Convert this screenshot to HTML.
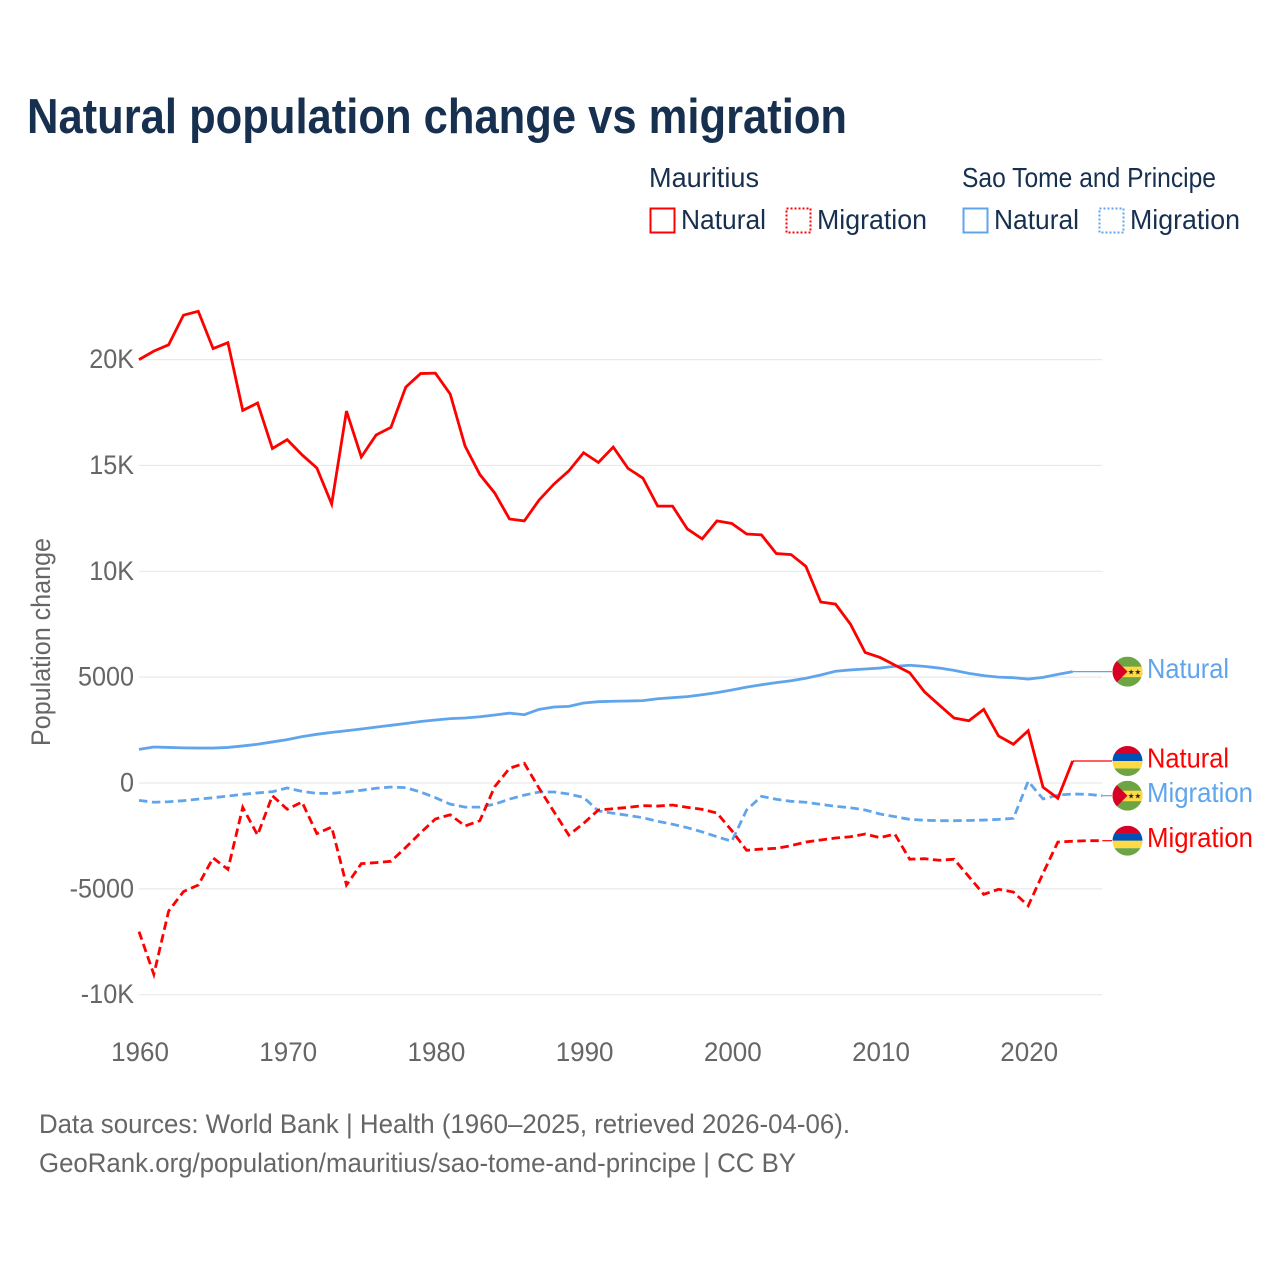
<!DOCTYPE html>
<html lang="en">
<head>
<meta charset="utf-8">
<title>Natural population change vs migration</title>
<style>
html,body{margin:0;padding:0;background:#fff;}
svg{display:block;font-family:"Liberation Sans",sans-serif;}
</style>
</head>
<body>
<svg id="chart" xmlns="http://www.w3.org/2000/svg" width="1280" height="1280" viewBox="0 0 1280 1280">
  <defs>
    <clipPath id="flag-clip"><circle cx="0" cy="0" r="15"></circle></clipPath>
  </defs>
  <rect x="0" y="0" width="1280" height="1280" fill="#ffffff"></rect>
  <text x="27" y="133" font-size="49" font-weight="700" fill="#17304f" textLength="820" lengthAdjust="spacingAndGlyphs">Natural population change vs migration</text>

  <g font-size="27.5" fill="#17304f">
    <text x="649" y="187" textLength="110" lengthAdjust="spacingAndGlyphs">Mauritius</text>
    <text x="962" y="187" textLength="254" lengthAdjust="spacingAndGlyphs">Sao Tome and Principe</text>
    <g>
      <rect x="650.5" y="208.5" width="24" height="24" fill="none" stroke="#ff0000" stroke-width="2"></rect>
      <text x="681" y="229" textLength="85" lengthAdjust="spacingAndGlyphs">Natural</text>
    </g>
    <g>
      <rect x="786.5" y="208.5" width="24" height="24" fill="none" stroke="#ff0000" stroke-width="2" stroke-dasharray="2 2"></rect>
      <text x="817" y="229" textLength="110" lengthAdjust="spacingAndGlyphs">Migration</text>
    </g>
    <g>
      <rect x="963.5" y="208.5" width="24" height="24" fill="none" stroke="#60a5ec" stroke-width="2"></rect>
      <text x="994" y="229" textLength="85" lengthAdjust="spacingAndGlyphs">Natural</text>
    </g>
    <g>
      <rect x="1099.5" y="208.5" width="24" height="24" fill="none" stroke="#60a5ec" stroke-width="2" stroke-dasharray="2 2"></rect>
      <text x="1130" y="229" textLength="110" lengthAdjust="spacingAndGlyphs">Migration</text>
    </g>
  </g>

  <text transform="translate(50,642) rotate(-90)" text-anchor="middle" font-size="26.5" fill="#666666" textLength="208" lengthAdjust="spacingAndGlyphs">Population change</text>

  <g id="grid"></g>
  <g id="y-ticks"></g>
  <g id="x-ticks"></g>
  <g id="series"></g>
  <g id="end-labels"></g>

  <text x="39" y="1133" font-size="26.5" fill="#666666" textLength="811" lengthAdjust="spacingAndGlyphs">Data sources: World Bank | Health (1960–2025, retrieved 2026-04-06).</text>
  <text x="39" y="1172" font-size="26.5" fill="#666666" textLength="757" lengthAdjust="spacingAndGlyphs">GeoRank.org/population/mauritius/sao-tome-and-principe | CC BY</text>
</svg>

<script>
const firstYear = 1960;
const yTickValues = [20000, 15000, 10000, 5000, 0, -5000, -10000];
const yTickLabels = ["20K", "15K", "10K", "5000", "0", "-5000", "-10K"];
const xTickYears = [1960, 1970, 1980, 1990, 2000, 2010, 2020];

const mauritiusNatural = [20000,20400,20700,22100,22280,20520,20800,17600,17950,15800,16220,15500,14880,13180,17570,15400,16440,16800,18700,19340,19360,18370,15920,14570,13700,12470,12380,13370,14120,14740,15600,15140,15870,14860,14400,13080,13080,12000,11530,12380,12260,11760,11720,10840,10790,10230,8550,8450,7510,6165,5930,5570,5210,4310,3680,3070,2940,3480,2220,1830,2470,-200,-720,1040];
const mauritiusMigration = [-7020,-9040,-6050,-5130,-4820,-3540,-4080,-1150,-2460,-600,-1240,-900,-2390,-2080,-4820,-3810,-3760,-3700,-3040,-2350,-1700,-1500,-2030,-1780,-175,695,930,-250,-1355,-2460,-1905,-1275,-1215,-1150,-1070,-1090,-1040,-1150,-1245,-1420,-2250,-3180,-3120,-3085,-2960,-2790,-2690,-2600,-2540,-2410,-2580,-2410,-3600,-3575,-3650,-3600,-4425,-5260,-5020,-5150,-5800,-4270,-2790,-2750,-2725,-2725];
const saoTomeNatural = [1590,1700,1680,1660,1650,1650,1680,1750,1830,1940,2050,2190,2300,2390,2470,2550,2640,2725,2810,2905,2975,3040,3070,3130,3210,3300,3225,3480,3590,3620,3780,3840,3860,3875,3890,3980,4030,4080,4170,4270,4390,4530,4640,4740,4830,4950,5100,5280,5340,5385,5430,5510,5560,5510,5430,5320,5180,5070,5000,4975,4910,4990,5130,5260];
const saoTomeMigration = [-820,-910,-885,-835,-760,-695,-615,-535,-470,-410,-235,-395,-490,-490,-425,-345,-250,-190,-220,-425,-695,-1000,-1140,-1140,-1000,-760,-570,-425,-425,-520,-680,-1320,-1430,-1530,-1640,-1810,-1950,-2110,-2310,-2540,-2750,-1275,-630,-770,-865,-910,-1010,-1100,-1170,-1275,-1465,-1590,-1715,-1760,-1780,-1780,-1770,-1750,-1720,-1670,80,-755,-570,-520,-535,-600];

const NS = "http://www.w3.org/2000/svg";
const RED = "#ff0000";
const BLUE = "#60a5ec";

function xScale(year) { return 139 + (year - 1960) * 14.82; }
function yScale(value) { return 783 - value * 0.02117; }

function make(tag, attrs, parent) {
  const el = document.createElementNS(NS, tag);
  for (const key in attrs) el.setAttribute(key, attrs[key]);
  parent.appendChild(el);
  return el;
}

function narrow(label, ratio) {
  const natural = label.getComputedTextLength();
  label.setAttribute("textLength", (natural * ratio).toFixed(1));
  label.setAttribute("lengthAdjust", "spacingAndGlyphs");
}

const gridGroup = document.getElementById("grid");
const yTickGroup = document.getElementById("y-ticks");
yTickValues.forEach(function (value, i) {
  const line = make("line", { x1: xScale(1960), x2: xScale(2025), y1: yScale(value), y2: yScale(value), stroke: "#e9e9e9", "stroke-width": 1.2 }, gridGroup);
  
  
  const label = make("text", { x: 134, y: yScale(value) + 8.5, "text-anchor": "end", "font-size": 26.5, fill: "#666666" }, yTickGroup);
  
  
  label.textContent = yTickLabels[i];
  narrow(label, 0.95);
});

const xTickGroup = document.getElementById("x-ticks");
xTickYears.forEach(function (year) {
  const label = make("text", { x: xScale(year) + 1, y: 1061, "text-anchor": "middle", "font-size": 26.5, fill: "#666666" }, xTickGroup);
  
  
  label.textContent = String(year);
  narrow(label, 0.98);
});

function pointsFor(values) {
  return values.map(function (v, i) { return xScale(firstYear + i).toFixed(2) + "," + yScale(v).toFixed(2); }).join(" ");
}

const seriesGroup = document.getElementById("series");
const endGroup = document.getElementById("end-labels");

function drawFlagMauritius(g) {
  const c = make("g", { "clip-path": "url(#flag-clip)" }, g);
  make("rect", { x: -15, y: -15, width: 30, height: 8.2, fill: "#d80027" }, c);
  make("rect", { x: -15, y: -7, width: 30, height: 7.2, fill: "#0052b4" }, c);
  make("rect", { x: -15, y: 0, width: 30, height: 7.5, fill: "#ffda44" }, c);
  make("rect", { x: -15, y: 7.5, width: 30, height: 7.5, fill: "#6da544" }, c);
}

function drawFlagSaoTome(g) {
  const c = make("g", { "clip-path": "url(#flag-clip)" }, g);
  make("rect", { x: -15, y: -15, width: 30, height: 30, fill: "#6da544" }, c);
  make("rect", { x: -15, y: -5, width: 30, height: 10.5, fill: "#ffda44" }, c);
  make("polygon", { points: "-11,-11 0,0 -11,11 -15,15 -15,-15", fill: "#d80027" }, c);
  make("text", { x: 7, y: 2.7, "text-anchor": "middle", "font-size": 7.5, fill: "#222222", "font-family": "DejaVu Sans, sans-serif" }, c).textContent = "★★";
}

function drawSeries(name, values, color, dashed, flag, labelText, labelWidth) {
  const line = make("polyline", { points: pointsFor(values), fill: "none", stroke: color, "stroke-width": 2.8, "stroke-linejoin": "miter" }, seriesGroup);
  
  
  if (dashed) line.setAttribute("stroke-dasharray", "8.5 4.5");

  const lastX = xScale(firstYear + values.length - 1);
  const lastY = yScale(values[values.length - 1]);

  const connector = make("line", { x1: lastX, x2: 1112, y1: lastY, y2: lastY, stroke: color, "stroke-width": 1.2 }, endGroup);
  
  

  const badge = make("g", { transform: "translate(1127.5," + lastY + ")" }, endGroup);
  
  
  flag(badge);

  const label = make("text", { x: 1147, y: lastY + 6.5, "font-size": 27.5, fill: color, textLength: labelWidth, lengthAdjust: "spacingAndGlyphs" }, endGroup);
  
  
  label.textContent = labelText;
}

drawSeries("sao-tome-natural", saoTomeNatural, BLUE, false, drawFlagSaoTome, "Natural", 82);
drawSeries("sao-tome-migration", saoTomeMigration, BLUE, true, drawFlagSaoTome, "Migration", 106);
drawSeries("mauritius-natural", mauritiusNatural, RED, false, drawFlagMauritius, "Natural", 82);
drawSeries("mauritius-migration", mauritiusMigration, RED, true, drawFlagMauritius, "Migration", 106);
</script>
</body>
</html>
